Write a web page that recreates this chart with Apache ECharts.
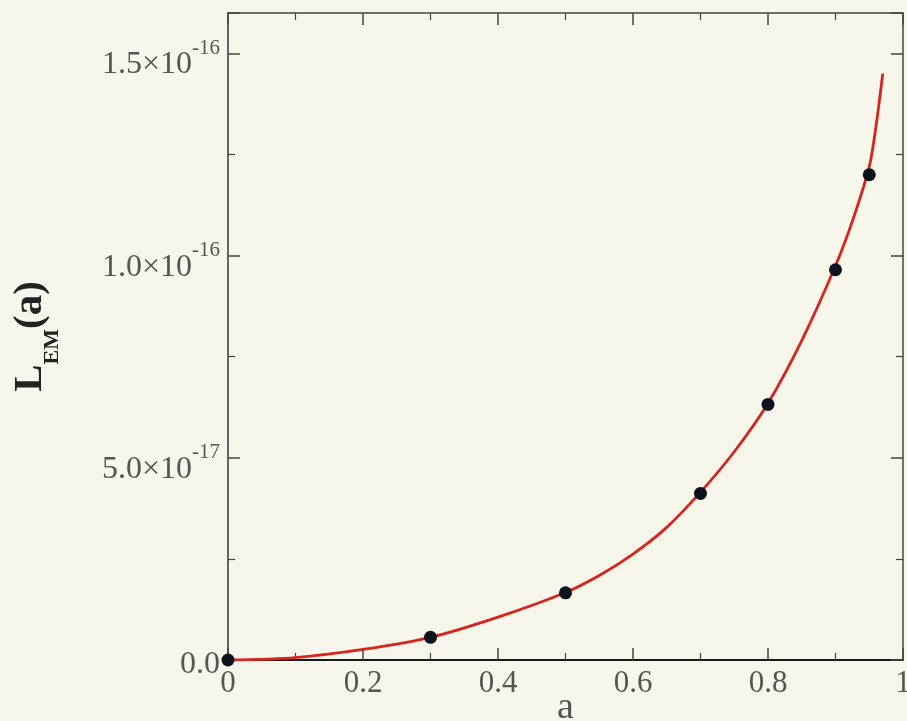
<!DOCTYPE html>
<html>
<head>
<meta charset="utf-8">
<script src="https://cdn.jsdelivr.net/npm/echarts@6/dist/echarts.min.js"></script>
<style>
  html, body { margin: 0; padding: 0; background: #f7f6ea; }
  #main { width: 907px; height: 721px; }
</style>
</head>
<body>
<div id="main"></div>
<script>
// values of L are in units of 1e-17
var pointA = [0, 0.3, 0.5, 0.7, 0.8, 0.9, 0.95];
var pointL = [0, 0.56, 1.66, 4.12, 6.32, 9.65, 12.0];

var curveA = [0, 0.1, 0.2, 0.3, 0.4, 0.5, 0.55, 0.6, 0.65, 0.7, 0.75, 0.8, 0.85, 0.9, 0.926, 0.95, 0.96, 0.97];
var curveL = [0, 0.06, 0.26, 0.56, 1.06, 1.67, 2.09, 2.62, 3.28, 4.15, 5.15, 6.35, 7.9, 9.75, 10.9, 12.2, 13.2, 14.5];

var xTickLabels = ["0", "0.2", "0.4", "0.6", "0.8", "1"];
var yTickValues = [0, 5, 10, 15];
var yTickMant = ["0.0", "5.0×10", "1.0×10", "1.5×10"];
var yTickExp = ["", "-17", "-16", "-16"];

var serif = "Liberation Serif";
var txt = "#555";

var myChart = echarts.init(document.getElementById("main"));

function pairs(xs, ys) {
  return xs.map(function (x, i) { return [x, ys[i]]; });
}

var tickStyle = {
  show: true,
  inside: true,
  length: 12,
  lineStyle: { color: "#444", width: 1.5 }
};
var minorStyle = {
  show: true,
  splitNumber: 2,
  length: 7,
  lineStyle: { color: "#444", width: 1.2 }
};

var option = {
  backgroundColor: "#f7f6ea",
  animation: false,
  grid: { left: 228, right: 4, top: 13, bottom: 61, containLabel: false, outerBoundsMode: "none" },
  xAxis: [
    {
      type: "value",
      min: 0,
      max: 1,
      interval: 0.2,
      position: "bottom",
      axisLine: { onZero: false, lineStyle: { color: "#1a1a1a", width: 2 } },
      axisTick: tickStyle,
      minorTick: minorStyle,
      splitLine: { show: false },
      axisLabel: {
        margin: 8,
        fontFamily: serif,
        fontSize: 31,
        color: txt,
        formatter: function (v) {
          return xTickLabels[Math.round(v / 0.2)] || "";
        }
      },
      name: "a",
      nameLocation: "middle",
      nameGap: 29,
      nameMoveOverlap: false,
      nameTextStyle: { fontFamily: serif, fontSize: 38, color: "#555" }
    },
    {
      type: "value",
      min: 0,
      max: 1,
      interval: 0.2,
      position: "top",
      axisLine: { onZero: false, lineStyle: { color: "#444", width: 1.5 } },
      axisTick: tickStyle,
      minorTick: minorStyle,
      splitLine: { show: false },
      axisLabel: { show: false }
    }
  ],
  yAxis: [
    {
      type: "value",
      min: 0,
      max: 16,
      interval: 5,
      position: "left",
      axisLine: { show: true, onZero: false, lineStyle: { color: "#666", width: 2 } },
      axisTick: tickStyle,
      minorTick: minorStyle,
      splitLine: { show: false },
      axisLabel: {
        margin: 8,
        padding: [12, 0, 0, 0],
        formatter: function (v) {
          var i = yTickValues.indexOf(v);
          if (i < 0) return "";
          if (!yTickExp[i]) return "{m|" + yTickMant[i] + "}";
          return "{m|" + yTickMant[i] + "}{s|" + yTickExp[i] + "}";
        },
        rich: {
          m: { fontFamily: serif, fontSize: 32, color: txt, verticalAlign: "bottom", lineHeight: 30 },
          s: { fontFamily: serif, fontSize: 21, color: txt, verticalAlign: "bottom", padding: [0, 0, 22, 0] }
        }
      },
      name: "{b|L}{sub|EM}{b|(a)}",
      nameLocation: "middle",
      nameRotate: 90,
      nameGap: 165,
      nameTextStyle: {
        rich: {
          b: { fontFamily: serif, fontWeight: "bold", fontSize: 41, color: "#222", verticalAlign: "bottom", padding: [0, 0, 12, 0] },
          sub: { fontFamily: serif, fontWeight: "bold", fontSize: 22, color: "#222", verticalAlign: "bottom" }
        }
      }
    },
    {
      type: "value",
      min: 0,
      max: 16,
      interval: 5,
      position: "right",
      axisLine: { show: true, onZero: false, lineStyle: { color: "#444", width: 1.5 } },
      axisTick: tickStyle,
      minorTick: minorStyle,
      splitLine: { show: false },
      axisLabel: { show: false }
    }
  ],
  series: [
    {
      type: "line",
      xAxisIndex: 0,
      yAxisIndex: 0,
      data: pairs(curveA, curveL),
      smooth: 0.3,
      showSymbol: false,
      lineStyle: { color: "#d8231f", width: 2.8 },
      z: 2
    },
    {
      type: "scatter",
      xAxisIndex: 0,
      yAxisIndex: 0,
      data: pairs(pointA, pointL),
      symbolSize: 13,
      itemStyle: { color: "#0c131c", opacity: 1 },
      clip: false,
      z: 3
    }
  ]
};

myChart.setOption(option);
</script>
</body>
</html>
